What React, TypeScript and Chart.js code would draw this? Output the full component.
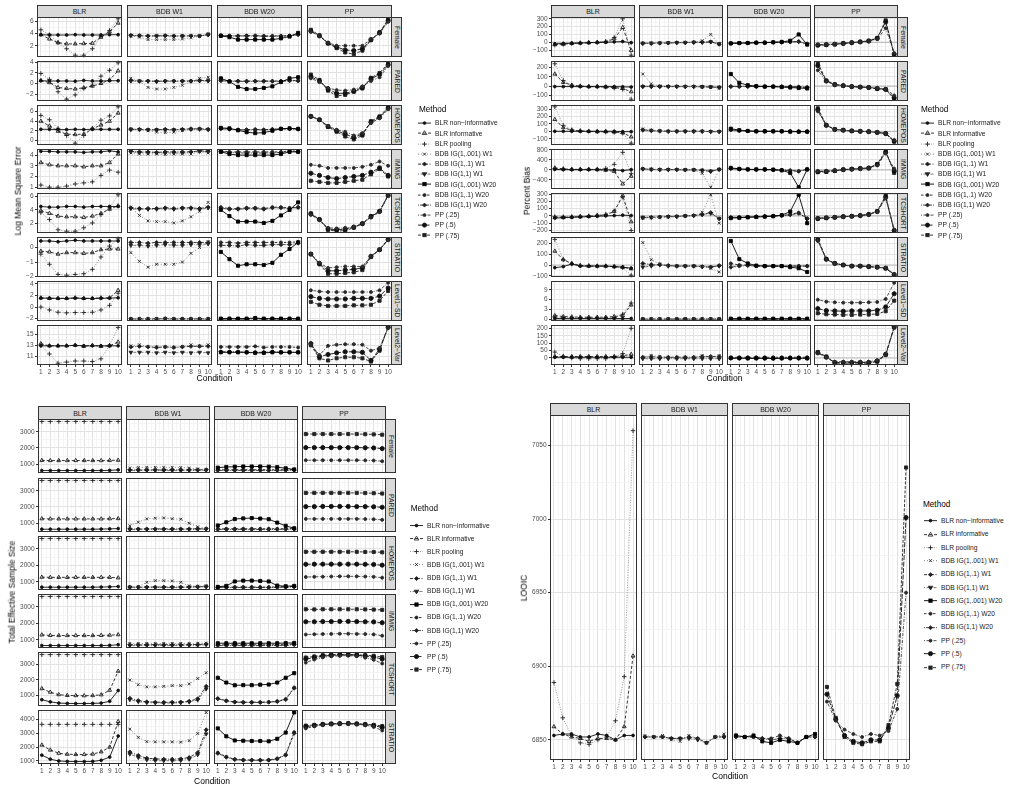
import React, { useEffect, useRef } from "react";
import { Chart, registerables } from "chart.js";

Chart.register(...registerables);

const FONT = '"Liberation Sans", Arial, Helvetica, sans-serif';

// ---------------- data ----------------
const conditions = [1, 2, 3, 4, 5, 6, 7, 8, 9, 10];
const facetColumns = ["BLR", "BDB W1", "BDB W20", "PP"];
const methodNames = [
  "BLR non\u2212informative", "BLR informative", "BLR pooling",
  "BDB IG(1,.001) W1", "BDB IG(1,.1) W1", "BDB IG(1,1) W1",
  "BDB IG(1,.001) W20", "BDB IG(1,.1) W20", "BDB IG(1,1) W20",
  "PP (.25)", "PP (.5)", "PP (.75)",
];
const parameterRows = ["Female", "PARED", "HOMEPOS", "IMMIG", "TCSHORT", "STRATIO", "Level1\u2212SD", "Level2\u2212Var"];
const essRowNames = ["Female", "PARED", "HOMEPOS", "IMMIG", "TCSHORT", "STRATIO"];

// Log mean square error, 12 series per row (method order)
const lmseFemale = [
  [3.8, 3.75, 3.75, 3.75, 3.8, 3.75, 3.75, 3.75, 3.8, 3.8],
  [3.8, 3.1, 2.5, 2.3, 2.3, 2.35, 2.4, 3.4, 4.3, 5.7],
  [4.6, 3.8, 2.5, 1.5, 0.45, 0.45, 1.5, 3.5, 4.5, 6.4],
  [3.6, 3.4, 3.0, 3.0, 3.0, 3.0, 3.1, 3.3, 3.5, 4.0],
  [3.7, 3.65, 3.6, 3.6, 3.65, 3.6, 3.6, 3.6, 3.6, 3.8],
  [3.65, 3.6, 3.55, 3.6, 3.6, 3.55, 3.6, 3.6, 3.6, 3.8],
  [3.6, 3.4, 3.0, 3.0, 3.0, 3.0, 3.0, 3.2, 3.5, 4.1],
  [3.7, 3.65, 3.6, 3.65, 3.65, 3.6, 3.6, 3.6, 3.65, 3.85],
  [3.65, 3.6, 3.6, 3.6, 3.6, 3.55, 3.55, 3.6, 3.6, 3.8],
  [4.3, 3.6, 2.5, 2.0, 2.0, 2.0, 2.0, 3.1, 4.0, 5.9],
  [4.4, 3.6, 2.4, 1.8, 1.3, 1.2, 1.5, 3.0, 4.1, 6.1],
  [4.6, 3.7, 2.4, 1.6, 0.9, 0.6, 1.2, 2.9, 4.2, 6.3],
];
const lmsePARED = [
  [0.55, 0.5, 0.5, 0.5, 0.45, 0.6, 0.5, 0.5, 0.55, 0.55],
  [0.6, 0.2, -0.7, -0.9, -1.0, -0.75, -0.45, 0.05, 0.7, 2.4],
  [1.9, 0.8, -1.5, -2.9, -2.1, -0.9, -0.3, 1.4, 2.5, 3.9],
  [1.0, 0.5, -0.7, -1.0, -1.0, -0.7, -0.3, 0.4, 1.0, 1.2],
  [0.6, 0.5, 0.5, 0.45, 0.5, 0.5, 0.5, 0.5, 0.6, 0.6],
  [0.5, 0.45, 0.45, 0.4, 0.45, 0.45, 0.45, 0.45, 0.5, 0.5],
  [1.0, 0.4, -0.6, -1.0, -1.0, -0.8, -0.5, 0.3, 1.0, 1.2],
  [0.6, 0.5, 0.5, 0.5, 0.5, 0.5, 0.5, 0.5, 0.6, 0.6],
  [0.55, 0.45, 0.45, 0.4, 0.45, 0.45, 0.45, 0.45, 0.55, 0.5],
  [1.0, 0.3, -0.8, -1.2, -1.3, -1.1, -0.5, 0.5, 1.2, 3.3],
  [1.3, 0.5, -1.0, -1.8, -1.8, -1.4, -0.7, 0.9, 1.7, 3.5],
  [1.7, 0.7, -1.3, -2.3, -2.1, -1.5, -0.9, 1.1, 2.0, 3.8],
];
const lmseHOMEPOS = [
  [2.3, 2.3, 2.25, 2.25, 2.3, 2.25, 2.3, 2.3, 2.3, 2.3],
  [4.0, 3.0, 1.9, 1.3, 1.2, 1.3, 2.4, 3.2, 4.0, 5.7],
  [5.2, 4.3, 2.5, 1.0, -0.6, 1.0, 2.5, 4.2, 5.1, 7.0],
  [2.4, 2.2, 2.0, 1.7, 1.6, 1.7, 2.0, 2.3, 2.4, 2.3],
  [2.3, 2.3, 2.2, 2.2, 2.3, 2.2, 2.3, 2.4, 2.4, 2.3],
  [2.25, 2.25, 2.2, 2.2, 2.2, 2.2, 2.25, 2.3, 2.3, 2.25],
  [2.6, 2.5, 2.1, 1.7, 1.5, 1.6, 2.0, 2.4, 2.5, 2.4],
  [2.5, 2.4, 2.2, 2.2, 2.3, 2.2, 2.3, 2.4, 2.4, 2.4],
  [2.4, 2.3, 2.2, 2.2, 2.2, 2.2, 2.3, 2.4, 2.4, 2.3],
  [5.0, 4.3, 3.0, 2.2, 1.8, 1.0, 1.5, 3.6, 4.6, 6.5],
  [5.0, 4.3, 2.9, 2.0, 1.3, 0.6, 1.3, 3.8, 4.8, 6.7],
  [5.0, 4.3, 2.8, 1.8, 0.8, 0.2, 1.0, 4.0, 5.0, 6.9],
];
const lmseIMMIG = [
  [4.35, 4.35, 4.3, 4.3, 4.3, 4.25, 4.3, 4.3, 4.4, 4.3],
  [3.3, 3.1, 3.0, 3.0, 3.0, 2.9, 3.0, 3.0, 3.3, 4.1],
  [1.2, 1.0, 1.0, 1.1, 1.3, 1.4, 1.5, 2.1, 2.6, 2.4],
  [4.2, 4.1, 4.1, 4.1, 4.05, 4.1, 4.1, 4.1, 4.3, 4.2],
  [4.35, 4.3, 4.3, 4.25, 4.3, 4.3, 4.3, 4.3, 4.4, 4.35],
  [4.3, 4.25, 4.2, 4.2, 4.2, 4.2, 4.2, 4.25, 4.35, 4.3],
  [4.3, 4.1, 4.0, 4.0, 4.0, 4.0, 4.0, 4.1, 4.3, 4.3],
  [4.4, 4.3, 4.3, 4.3, 4.3, 4.3, 4.3, 4.3, 4.4, 4.35],
  [4.35, 4.25, 4.2, 4.2, 4.2, 4.2, 4.2, 4.25, 4.35, 4.3],
  [3.1, 3.0, 2.8, 2.8, 2.8, 2.8, 2.9, 3.1, 3.4, 3.0],
  [2.3, 2.1, 1.9, 1.8, 1.9, 2.0, 2.1, 2.4, 2.8, 2.1],
  [1.6, 1.5, 1.4, 1.4, 1.5, 1.6, 1.7, 2.2, 2.7, 2.0],
];
const lmseTCSHORT = [
  [4.5, 4.4, 4.4, 4.5, 4.5, 4.4, 4.5, 4.5, 4.5, 4.5],
  [3.9, 3.5, 3.1, 3.0, 3.0, 2.9, 3.1, 3.5, 4.1, 4.6],
  [3.6, 2.6, 1.1, 0.9, 0.9, 1.4, 2.1, 3.3, 4.3, 6.2],
  [4.4, 3.2, 2.4, 2.3, 2.3, 2.1, 2.4, 3.0, 3.8, 5.1],
  [4.3, 4.2, 4.2, 4.2, 4.3, 4.2, 4.3, 4.3, 4.2, 4.4],
  [4.2, 4.1, 4.1, 4.1, 4.2, 4.1, 4.2, 4.2, 4.1, 4.3],
  [4.0, 3.1, 2.3, 2.3, 2.3, 2.1, 2.4, 3.2, 4.0, 5.1],
  [4.4, 4.2, 4.2, 4.3, 4.3, 4.2, 4.4, 4.4, 4.3, 4.4],
  [4.3, 4.1, 4.1, 4.2, 4.2, 4.1, 4.3, 4.3, 4.2, 4.35],
  [3.3, 2.5, 1.4, 1.3, 1.4, 1.5, 2.0, 2.9, 3.7, 6.0],
  [3.4, 2.6, 1.2, 1.1, 1.2, 1.5, 2.0, 3.0, 3.8, 6.1],
  [3.5, 2.6, 1.1, 0.9, 1.0, 1.4, 2.0, 3.1, 3.8, 6.2],
];
const lmseSTRATIO = [
  [0.45, 0.45, 0.4, 0.45, 0.5, 0.45, 0.45, 0.45, 0.45, 0.45],
  [-0.25, -0.3, -0.45, -0.35, -0.35, -0.4, -0.35, -0.15, -0.1, -0.1],
  [-0.45, -1.15, -1.85, -1.9, -1.85, -1.8, -1.5, -0.65, 0.1, 0.6],
  [-0.35, -0.95, -1.35, -1.15, -1.15, -1.15, -1.0, -0.4, 0.0, 0.4],
  [0.35, 0.35, 0.3, 0.35, 0.35, 0.35, 0.35, 0.35, 0.35, 0.35],
  [0.15, 0.15, 0.1, 0.15, 0.2, 0.15, 0.15, 0.2, 0.2, 0.25],
  [-0.3, -0.8, -1.25, -1.15, -1.15, -1.2, -1.05, -0.5, -0.1, 0.35],
  [0.35, 0.35, 0.3, 0.35, 0.35, 0.35, 0.35, 0.35, 0.35, 0.4],
  [0.15, 0.15, 0.1, 0.2, 0.15, 0.15, 0.2, 0.2, 0.2, 0.3],
  [-0.45, -1.05, -1.4, -1.35, -1.3, -1.3, -1.3, -0.6, -0.15, 0.5],
  [-0.45, -1.1, -1.6, -1.6, -1.55, -1.5, -1.4, -0.6, -0.15, 0.55],
  [-0.45, -1.15, -1.8, -1.8, -1.75, -1.7, -1.55, -0.65, -0.15, 0.6],
];
const lmseLevel1SD = [
  [1.55, 1.55, 1.5, 1.5, 1.55, 1.5, 1.5, 1.5, 1.55, 1.6],
  [1.6, 1.5, 1.5, 1.5, 1.6, 1.5, 1.5, 1.6, 1.6, 2.9],
  [0.0, -0.5, -0.9, -1.0, -0.95, -0.95, -0.9, -0.5, 0.3, 2.4],
  [-2.0, -2.0, -2.0, -2.0, -1.95, -2.0, -2.0, -2.0, -2.0, -2.0],
  [-2.05, -2.05, -2.05, -2.05, -2.0, -2.05, -2.05, -2.05, -2.05, -2.05],
  [-2.1, -2.1, -2.1, -2.1, -2.05, -2.1, -2.1, -2.1, -2.1, -2.1],
  [-2.0, -2.0, -2.0, -2.0, -1.9, -2.0, -2.0, -2.0, -2.0, -2.0],
  [-2.05, -2.05, -2.05, -2.05, -2.0, -2.05, -2.05, -2.05, -2.05, -2.05],
  [-2.1, -2.1, -2.1, -2.1, -2.05, -2.1, -2.1, -2.1, -2.1, -2.1],
  [2.9, 2.7, 2.6, 2.6, 2.6, 2.6, 2.6, 2.6, 2.9, 4.2],
  [1.8, 1.5, 1.4, 1.4, 1.4, 1.5, 1.5, 1.5, 1.9, 3.3],
  [0.9, 0.4, 0.2, 0.2, 0.2, 0.3, 0.3, 0.4, 1.1, 2.8],
];
const lmseLevel2Var = [
  [12.9, 12.9, 12.9, 12.9, 13.0, 12.9, 12.9, 12.9, 12.9, 12.9],
  [13.3, 12.9, 12.9, 12.9, 13.0, 12.8, 13.0, 12.8, 12.9, 13.6],
  [13.0, 11.4, 9.7, 9.9, 10.1, 10.1, 10.0, 10.5, 13.0, 16.3],
  [12.9, 13.1, 12.8, 12.7, 12.7, 12.6, 12.8, 13.1, 12.9, 13.1],
  [12.7, 12.8, 12.7, 12.6, 12.7, 12.6, 12.7, 12.8, 12.8, 12.8],
  [11.7, 11.7, 11.7, 11.6, 11.7, 11.6, 11.7, 11.6, 11.7, 11.6],
  [11.7, 11.7, 11.7, 11.7, 11.6, 11.6, 11.7, 11.7, 11.7, 11.7],
  [12.7, 12.7, 12.7, 12.7, 12.8, 12.6, 12.7, 12.7, 12.7, 12.6],
  [11.8, 11.8, 11.8, 11.7, 11.7, 11.7, 11.8, 11.7, 11.7, 11.7],
  [13.2, 11.2, 12.9, 13.1, 13.2, 13.2, 13.1, 12.0, 12.5, 16.2],
  [13.3, 10.9, 11.3, 11.6, 11.8, 11.8, 11.7, 10.2, 12.3, 16.3],
  [13.0, 10.6, 10.2, 10.6, 10.8, 10.8, 10.6, 10.0, 12.0, 16.4],
];

// Percent bias
const biasFemale = [
  [-20, -15, -12, -10, -5, -3, 0, 5, 10, -5],
  [-30, -25, -15, -10, -5, 0, 5, 45, 190, -105],
  [-35, -25, -15, -10, -5, 0, 10, 60, 300, -165],
  [-15, -10, -10, -5, -5, 0, 0, 20, 100, -25],
  [-15, -15, -10, -10, -5, -5, 0, 0, 5, -25],
  [-12, -12, -10, -8, -5, -5, 0, 0, 5, -20],
  [-15, -10, -10, -5, -5, 0, 5, 20, 100, -30],
  [-15, -10, -10, -5, -5, 0, 0, 5, 10, -25],
  [-12, -10, -8, -5, -5, 0, 0, 5, 8, -20],
  [-30, -30, -20, -15, -5, 5, 15, 40, 180, -140],
  [-35, -30, -25, -15, -5, 5, 15, 50, 260, -150],
  [-40, -35, -25, -15, -5, 5, 20, 55, 280, -165],
];
const biasPARED = [
  [-5, -5, -5, -5, -5, -5, -5, -5, -8, -10],
  [130, 40, 10, 0, -5, -5, -10, -15, -25, -60],
  [240, 60, 10, 0, -5, -5, -10, -20, -35, -140],
  [130, 25, 0, -5, -5, -5, -5, -10, -15, -20],
  [-5, -5, -5, -5, -5, -5, -5, -8, -10, -15],
  [-3, -3, -3, -3, -3, -5, -5, -5, -8, -12],
  [130, 35, 10, 0, -5, -5, -10, -15, -20, -25],
  [-5, -5, -5, -5, -5, -5, -5, -8, -10, -15],
  [-3, -3, -3, -3, -3, -5, -5, -5, -8, -12],
  [170, 50, 15, 5, -5, -10, -15, -20, -30, -100],
  [220, 55, 15, 5, -5, -10, -15, -25, -35, -125],
  [250, 60, 20, 5, -5, -10, -15, -30, -35, -140],
];
const biasHOMEPOS = [
  [0, 0, 0, 0, 0, 0, 0, 0, -5, -5],
  [160, 50, 15, 5, 0, -5, -5, -10, -20, -75],
  [330, 80, 20, 5, 0, -5, -10, -15, -25, -160],
  [30, 15, 5, 0, 0, 0, 0, 0, -5, -5],
  [20, 10, 5, 0, 0, 0, 0, 0, -5, -5],
  [15, 8, 3, 0, 0, 0, 0, 0, -3, -3],
  [35, 15, 5, 0, 0, 0, 0, -5, -5, -5],
  [25, 10, 5, 0, 0, 0, 0, 0, -5, -5],
  [18, 8, 3, 0, 0, 0, 0, 0, -3, -3],
  [270, 80, 25, 15, 5, 0, -5, -15, -30, -120],
  [290, 80, 25, 15, 5, 0, -5, -15, -30, -130],
  [310, 85, 25, 15, 5, 0, -5, -15, -30, -140],
];
const biasIMMIG = [
  [20, 10, 10, 10, 10, 10, 0, 0, -30, 10],
  [80, 40, 20, 20, 20, 10, -10, -60, -560, -250],
  [50, 30, 20, 20, 20, 30, 60, 220, 700, -150],
  [60, 30, 10, 10, 10, 0, -10, -140, -690, 20],
  [40, 20, 10, 10, 10, 0, 0, -20, -60, 20],
  [30, 20, 10, 10, 10, 0, 0, -10, -50, 20],
  [80, 40, 20, 20, 20, 10, -20, -120, -690, 20],
  [60, 30, 20, 10, 10, 0, -10, -30, -60, 20],
  [50, 25, 15, 10, 10, 0, -5, -20, -50, 20],
  [-50, -50, -20, 0, 20, 40, 60, 180, 650, 50],
  [-70, -60, -30, 10, 30, 50, 70, 210, 700, -50],
  [-90, -80, -40, 10, 30, 60, 80, 230, 760, -120],
];
const biasTCSHORT = [
  [-30, -25, -20, -15, -10, -5, 0, 5, 10, 5],
  [-20, -20, -15, -10, -5, 5, 15, 60, 280, -80],
  [-10, -10, -10, -5, 0, 10, 20, 70, 260, -200],
  [-30, -25, -20, -15, -10, -5, 5, 50, 290, -100],
  [-25, -20, -15, -10, -10, 0, 5, 20, 45, -40],
  [-20, -20, -15, -10, -5, 0, 5, 15, 35, -35],
  [-30, -25, -20, -15, -10, -5, 10, 60, 290, -100],
  [-25, -20, -15, -10, -5, 0, 5, 20, 45, -40],
  [-20, -18, -15, -10, -5, 0, 5, 15, 35, -35],
  [-30, -25, -15, -10, -5, 5, 20, 55, 240, -190],
  [-35, -25, -20, -10, -5, 5, 20, 60, 260, -200],
  [-40, -30, -20, -10, -5, 5, 20, 65, 280, -210],
];
const biasSTRATIO = [
  [-25, -15, 10, -10, -10, -10, -10, -15, -20, -30],
  [130, 50, 15, -5, -10, -10, -10, -15, -20, -35],
  [240, 50, 10, -5, -5, -10, -10, -15, -25, -95],
  [210, 50, 10, -5, -10, -10, -10, -15, -30, -65],
  [15, 5, 5, -5, -10, -10, -10, -15, -20, -5],
  [-20, -10, 0, -10, -10, -10, -10, -15, -20, -10],
  [225, 55, 15, -5, -10, -10, -10, -20, -30, -65],
  [15, 0, 0, -10, -10, -10, -10, -10, -10, -10],
  [-20, -10, -5, -10, -10, -10, -10, -10, -10, -10],
  [225, 50, 15, 0, -10, -10, -15, -20, -25, -85],
  [235, 55, 15, 0, -10, -10, -15, -20, -30, -90],
  [245, 55, 15, 0, -10, -10, -15, -20, -30, -90],
];
const biasLevel1SD = [
  [0.3, 0.3, 0.3, 0.3, 0.3, 0.3, 0.3, 0.3, 0.3, 0.3],
  [1.2, 0.9, 0.8, 0.7, 0.7, 0.7, 0.7, 0.9, 1.2, 4.4],
  [0.7, 0.5, 0.5, 0.4, 0.4, 0.4, 0.4, 0.6, 1.6, 5.0],
  [0.25, 0.25, 0.25, 0.25, 0.25, 0.25, 0.25, 0.25, 0.25, 0.25],
  [0.15, 0.15, 0.15, 0.15, 0.15, 0.15, 0.15, 0.15, 0.15, 0.15],
  [0.1, 0.1, 0.1, 0.1, 0.1, 0.1, 0.1, 0.1, 0.1, 0.1],
  [0.25, 0.25, 0.25, 0.25, 0.25, 0.25, 0.25, 0.25, 0.25, 0.25],
  [0.15, 0.15, 0.15, 0.15, 0.15, 0.15, 0.15, 0.15, 0.15, 0.15],
  [0.1, 0.1, 0.1, 0.1, 0.1, 0.1, 0.1, 0.1, 0.1, 0.1],
  [6.0, 5.4, 5.2, 5.1, 5.1, 5.1, 5.2, 5.3, 6.2, 11.1],
  [3.3, 2.7, 2.6, 2.5, 2.6, 2.6, 2.6, 2.8, 3.8, 7.8],
  [1.9, 1.6, 1.5, 1.4, 1.4, 1.5, 1.5, 1.7, 2.5, 5.7],
];
const biasLevel2Var = [
  [5, 5, 5, 5, 5, 5, 5, 5, 5, 5],
  [10, 10, 10, 10, 10, 10, 10, 10, 15, 25],
  [40, 10, 0, -5, -5, -5, -5, 5, 30, 200],
  [5, 15, 10, 5, 5, 5, 5, 15, 10, 15],
  [5, 10, 5, 5, 5, 5, 5, 10, 10, 10],
  [-5, -5, -5, -5, -5, -5, -5, -5, -5, -5],
  [0, -1, -2, -2, -2, -3, -2, -1, -1, -2],
  [5, 5, 5, 5, 5, 5, 5, 5, 5, 5],
  [-3, -3, -3, -3, -3, -3, -3, -3, -3, -3],
  [35, 5, -25, -25, -25, -25, -25, -15, 20, 205],
  [35, 5, -30, -30, -30, -30, -30, -20, 25, 210],
  [40, 10, -35, -35, -35, -35, -35, -25, 20, 205],
];

// Total effective sample size
const essFemale = [
  [600, 600, 600, 600, 600, 600, 600, 600, 610, 640],
  [1230, 1220, 1220, 1220, 1220, 1220, 1220, 1220, 1230, 1240],
  [3640, 3640, 3640, 3640, 3640, 3640, 3640, 3640, 3640, 3640],
  [760, 790, 800, 800, 800, 800, 790, 760, 700, 650],
  [640, 640, 640, 640, 640, 640, 640, 640, 645, 650],
  [600, 600, 600, 600, 600, 600, 600, 600, 605, 620],
  [780, 820, 840, 850, 850, 850, 840, 810, 740, 670],
  [650, 650, 650, 650, 650, 650, 650, 650, 650, 655],
  [610, 610, 610, 610, 610, 610, 610, 610, 615, 625],
  [1240, 1240, 1240, 1240, 1240, 1240, 1240, 1230, 1220, 1180],
  [2020, 2020, 2020, 2020, 2020, 2020, 2020, 2010, 2000, 1960],
  [2860, 2860, 2860, 2860, 2860, 2860, 2860, 2850, 2840, 2820],
];
const essPARED = [
  [620, 620, 620, 620, 620, 620, 620, 630, 640, 660],
  [1270, 1260, 1260, 1260, 1260, 1260, 1260, 1260, 1270, 1280],
  [3640, 3640, 3640, 3640, 3640, 3640, 3640, 3640, 3640, 3640],
  [830, 1060, 1260, 1300, 1320, 1270, 1240, 990, 770, 670],
  [640, 640, 640, 640, 640, 640, 640, 640, 645, 650],
  [600, 600, 600, 600, 600, 600, 600, 600, 605, 620],
  [850, 1050, 1250, 1290, 1310, 1280, 1240, 1030, 830, 680],
  [650, 650, 650, 650, 650, 650, 650, 650, 655, 660],
  [610, 610, 610, 610, 610, 610, 610, 610, 615, 625],
  [1260, 1260, 1260, 1260, 1260, 1260, 1260, 1250, 1240, 1200],
  [2020, 2020, 2030, 2030, 2030, 2030, 2020, 2020, 2010, 1980],
  [2870, 2870, 2870, 2870, 2870, 2870, 2870, 2860, 2850, 2830],
];
const essHOMEPOS = [
  [680, 680, 680, 680, 680, 680, 680, 690, 700, 720],
  [1290, 1280, 1280, 1280, 1280, 1280, 1280, 1280, 1280, 1250],
  [3640, 3640, 3640, 3640, 3640, 3640, 3640, 3640, 3640, 3640],
  [700, 720, 980, 1080, 1080, 1060, 980, 760, 740, 760],
  [690, 690, 690, 690, 690, 690, 690, 700, 710, 730],
  [660, 660, 660, 660, 660, 660, 660, 670, 680, 700],
  [700, 760, 1030, 1080, 1080, 1060, 1030, 780, 740, 760],
  [690, 690, 690, 690, 690, 690, 690, 700, 710, 730],
  [660, 660, 660, 660, 660, 660, 660, 670, 680, 700],
  [1300, 1310, 1320, 1330, 1340, 1340, 1340, 1330, 1310, 1260],
  [2070, 2080, 2080, 2080, 2080, 2080, 2080, 2070, 2060, 2020],
  [2830, 2830, 2830, 2830, 2830, 2830, 2830, 2820, 2820, 2800],
];
const essIMMIG = [
  [650, 650, 650, 650, 650, 650, 650, 650, 660, 700],
  [1300, 1270, 1260, 1260, 1260, 1260, 1260, 1270, 1280, 1310],
  [3640, 3640, 3640, 3640, 3640, 3640, 3640, 3640, 3640, 3640],
  [780, 780, 780, 780, 780, 780, 780, 780, 790, 800],
  [700, 700, 700, 700, 700, 700, 700, 705, 710, 740],
  [650, 650, 650, 650, 650, 650, 650, 655, 660, 700],
  [790, 790, 790, 790, 790, 790, 790, 790, 800, 810],
  [700, 700, 700, 700, 700, 700, 700, 705, 710, 740],
  [650, 650, 650, 650, 650, 650, 650, 655, 660, 700],
  [1320, 1340, 1350, 1360, 1370, 1370, 1360, 1350, 1330, 1250],
  [2100, 2100, 2110, 2110, 2120, 2120, 2110, 2100, 2090, 2040],
  [2860, 2850, 2860, 2860, 2860, 2860, 2860, 2850, 2840, 2820],
];
const essTCSHORT = [
  [700, 560, 480, 460, 450, 450, 460, 480, 600, 1300],
  [1420, 1190, 1030, 980, 970, 960, 970, 1020, 1320, 2560],
  [3640, 3640, 3640, 3640, 3640, 3640, 3640, 3640, 3640, 3640],
  [1980, 1680, 1540, 1540, 1570, 1620, 1620, 1730, 2080, 2460],
  [800, 640, 560, 540, 530, 540, 550, 600, 760, 1570],
  [700, 580, 510, 490, 480, 490, 500, 550, 680, 1400],
  [2130, 1820, 1640, 1650, 1650, 1680, 1690, 1820, 2130, 2430],
  [780, 640, 560, 540, 540, 540, 550, 600, 740, 1500],
  [760, 620, 540, 520, 520, 520, 540, 580, 710, 1450],
  [3120, 3320, 3460, 3530, 3570, 3580, 3540, 3440, 3300, 3060],
  [3350, 3450, 3540, 3590, 3620, 3620, 3600, 3550, 3480, 3350],
  [3450, 3520, 3600, 3630, 3650, 3650, 3630, 3600, 3560, 3480],
];
const essSTRATIO = [
  [1420, 1130, 1000, 970, 960, 960, 970, 1050, 1280, 2800],
  [2150, 1790, 1560, 1490, 1470, 1470, 1500, 1660, 2000, 3850],
  [3640, 3640, 3640, 3640, 3640, 3640, 3640, 3640, 3640, 3640],
  [3300, 2700, 2400, 2380, 2380, 2380, 2360, 2470, 2980, 4500],
  [1650, 1400, 1200, 1150, 1130, 1130, 1150, 1250, 1600, 3250],
  [1500, 1250, 1080, 1030, 1020, 1020, 1040, 1130, 1450, 2950],
  [3350, 2780, 2480, 2460, 2440, 2440, 2420, 2600, 3050, 4500],
  [1600, 1300, 1130, 1080, 1070, 1070, 1080, 1180, 1460, 3080],
  [1550, 1270, 1100, 1060, 1050, 1050, 1060, 1150, 1420, 3000],
  [3350, 3500, 3600, 3650, 3680, 3690, 3640, 3580, 3460, 3200],
  [3480, 3560, 3630, 3670, 3690, 3700, 3670, 3620, 3550, 3420],
  [3550, 3600, 3650, 3680, 3700, 3710, 3690, 3650, 3600, 3520],
];

// LOOIC
const looicAll = [
  [6853, 6854, 6854, 6852, 6852, 6854, 6853, 6850, 6853, 6853],
  [6859, 6854, 6852, 6851, 6849, 6851, 6851, 6850, 6859, 6907],
  [6889, 6865, 6853, 6848, 6847, 6850, 6852, 6863, 6893, 7060],
  [6853, 6852, 6853, 6850, 6849, 6853, 6851, 6848, 6852, 6854],
  [6852, 6852, 6852, 6851, 6851, 6852, 6851, 6848, 6852, 6852],
  [6852, 6852, 6852, 6851, 6851, 6851, 6850, 6848, 6852, 6852],
  [6853, 6852, 6853, 6849, 6848, 6850, 6849, 6848, 6852, 6854],
  [6853, 6852, 6852, 6851, 6851, 6853, 6851, 6848, 6852, 6852],
  [6852, 6852, 6852, 6851, 6850, 6851, 6851, 6848, 6852, 6852],
  [6876, 6863, 6857, 6854, 6852, 6854, 6853, 6856, 6871, 6950],
  [6881, 6864, 6853, 6849, 6848, 6850, 6850, 6858, 6880, 7001],
  [6886, 6865, 6852, 6848, 6847, 6849, 6849, 6860, 6888, 7035],
];

// axis breaks
const lmseTicks = [[2, 4, 6], [-2, 0, 2, 4], [0, 2, 4, 6], [1, 2, 3, 4], [2, 4, 6], [-2, -1, 0], [-2, 0, 2, 4], [11, 13, 15]];
const biasTicks = [[-100, 0, 100, 200, 300], [-100, 0, 100, 200], [-100, 0, 100, 200, 300], [-400, 0, 400, 800], [-200, -100, 0, 100, 200, 300], [-100, 0, 100, 200], [0, 3, 6, 9], [-50, 0, 50, 100, 150, 200]];
const essTicks = [[1000, 2000, 3000], [1000, 2000, 3000], [1000, 2000, 3000], [1000, 2000, 3000], [1000, 2000, 3000], [1000, 2000, 3000, 4000]];
const looicTicks = [[6850, 6900, 6950, 7000, 7050]];
const biasReference = 0;

const lmseValues = [lmseFemale, lmsePARED, lmseHOMEPOS, lmseIMMIG, lmseTCSHORT, lmseSTRATIO, lmseLevel1SD, lmseLevel2Var];
const biasValues = [biasFemale, biasPARED, biasHOMEPOS, biasIMMIG, biasTCSHORT, biasSTRATIO, biasLevel1SD, biasLevel2Var];
const essValues = [essFemale, essPARED, essHOMEPOS, essIMMIG, essTCSHORT, essSTRATIO];

// ---------------- styles ----------------
const methodColor = ["#111111", "#1e1e1e", "#8c8c8c", "#7a7a7a", "#1e1e1e", "#6a6a6a", "#000000", "#222222", "#333333", "#3a3a3a", "#111111", "#222222"];
const methodPointColor = ["#111111", "#1e1e1e", "#222222", "#222222", "#1e1e1e", "#222222", "#000000", "#222222", "#222222", "#2a2a2a", "#111111", "#222222"];
const methodDash: number[][] = [[], [3, 2], [1, 1.5], [1, 2], [3, 1.5, 1, 1.5], [1, 1.5, 3, 1.5], [], [2.5, 2], [1, 1, 3, 1], [1, 1.5, 3, 1.5], [5, 1.5], [3, 1.5]];
const methodShape = ["circle", "triangle", "cross", "crossRot", "rectRot", "triangle", "rect", "circle", "rectRot", "circle", "circle", "rect"];
const methodRotation = [0, 0, 0, 0, 0, 180, 0, 0, 0, 0, 0, 0];
const methodRadius = [1.4, 2.2, 2.3, 2.0, 2.0, 2.1, 2.2, 1.5, 2.0, 1.5, 2.1, 2.2];
const methodFilled = [true, false, true, true, true, true, true, true, true, true, true, true];

const GRID_MAJOR = "#e2e2e2";
const GRID_MINOR = "#f0f0f0";
const FRAME = "#333333";
const TICK_TEXT = "#4d4d4d";

const xLo = conditions[0] - 0.05 * (conditions[conditions.length - 1] - conditions[0]);
const xHi = conditions[conditions.length - 1] + 0.05 * (conditions[conditions.length - 1] - conditions[0]);

function minorBreaks(major: number[], lo: number, hi: number) {
  const step = major[1] - major[0];
  const ext = [major[0] - step, ...major, major[major.length - 1] + step];
  const out: number[] = [];
  for (let i = 0; i < ext.length - 1; i++) {
    const m = (ext[i] + ext[i + 1]) / 2;
    if (m > lo && m < hi) out.push(m);
  }
  return out;
}

const fmt = (v: number) => String(Math.round(v * 1000) / 1000).replace("-", "\u2212");

const framePlugin = {
  id: "panelFrame",
  beforeDatasetsDraw(chart: any, _a: any, opts: any) {
    if (opts && typeof opts.ref === "number") {
      const y = chart.scales.y.getPixelForValue(opts.ref);
      const ca = chart.chartArea;
      const ctx = chart.ctx;
      ctx.save();
      ctx.strokeStyle = "#bdbdbd";
      ctx.lineWidth = 1.2;
      ctx.beginPath();
      ctx.moveTo(ca.left, y);
      ctx.lineTo(ca.right, y);
      ctx.stroke();
      ctx.restore();
    }
  },
  afterDraw(chart: any) {
    const ca = chart.chartArea;
    const ctx = chart.ctx;
    ctx.save();
    ctx.strokeStyle = FRAME;
    ctx.lineWidth = 1;
    ctx.strokeRect(ca.left + 0.5, ca.top + 0.5, ca.right - ca.left - 1, ca.bottom - ca.top - 1);
    ctx.restore();
  },
};

type PanelProps = {
  left: number; top: number; w: number; h: number;
  showY: boolean; showX: boolean; yAxisW: number; xAxisH: number;
  methods: number[]; rowValues: number[][];
  yLo: number; yHi: number; yMajor: number[];
  reference?: number;
};

function FacetPanel(p: PanelProps) {
  const ref = useRef<HTMLCanvasElement>(null);
  const padT = p.showY ? 5 : 0;
  const padB = p.showY ? 5 : 0;
  const cl = p.left - (p.showY ? p.yAxisW : 0);
  const ct = p.top - padT;
  const cw = p.w + (p.showY ? p.yAxisW : 0);
  const ch = p.h + padT + padB + (p.showX ? p.xAxisH : 0);

  useEffect(() => {
    const yMajor = p.yMajor.filter((v) => v >= p.yLo && v <= p.yHi);
    const yMinor = minorBreaks(p.yMajor, p.yLo, p.yHi);
    const xMajor = conditions;
    const xMinor = minorBreaks(conditions, xLo, xHi);
    const isMaj = (arr: number[], v: number) => arr.some((m) => Math.abs(m - v) < 1e-9);
    const gridOpts = (maj: number[], show: boolean) => ({
      color: (c: any) => (c.tick && isMaj(maj, c.tick.value) ? GRID_MAJOR : GRID_MINOR),
      lineWidth: (c: any) => (c.tick && isMaj(maj, c.tick.value) ? 1 : 0.7),
      drawTicks: show,
      tickLength: 2,
      tickWidth: 1,
      tickColor: (c: any) => (c.tick && isMaj(maj, c.tick.value) ? FRAME : "rgba(0,0,0,0)"),
    });
    const chart = new Chart(ref.current as HTMLCanvasElement, {
      type: "line",
      data: {
        datasets: p.methods.map((m) => ({
          label: methodNames[m],
          data: conditions.map((c, i) => ({ x: c, y: p.rowValues[m][i] })),
          borderColor: methodColor[m],
          borderWidth: 0.9,
          borderDash: methodDash[m],
          pointStyle: methodShape[m] as any,
          pointRotation: methodRotation[m],
          pointRadius: methodRadius[m],
          pointHoverRadius: methodRadius[m],
          pointBackgroundColor: methodFilled[m] ? methodPointColor[m] : "rgba(0,0,0,0)",
          pointBorderColor: methodPointColor[m],
          pointBorderWidth: 0.9,
          tension: 0,
          fill: false,
          clip: 4,
        })),
      },
      options: {
        animation: false,
        responsive: false,
        maintainAspectRatio: false,
        events: [],
        layout: { autoPadding: false, padding: { top: padT, bottom: padB, left: 0, right: 0 } },
        plugins: {
          legend: { display: false },
          tooltip: { enabled: false },
          title: { display: false },
          panelFrame: { ref: p.reference },
        } as any,
        scales: {
          x: {
            type: "linear",
            position: "bottom",
            min: xLo,
            max: xHi,
            afterBuildTicks: (s: any) => {
              s.ticks = [...xMajor, ...xMinor].sort((a, b) => a - b).map((v) => ({ value: v }));
            },
            afterFit: (s: any) => {
              s.height = p.showX ? p.xAxisH : 0;
              s.paddingLeft = 0; s.paddingRight = 0; s.paddingTop = 0; s.paddingBottom = 0;
            },
            border: { display: false },
            grid: gridOpts(xMajor, p.showX) as any,
            ticks: {
              display: p.showX,
              autoSkip: false,
              maxRotation: 0,
              minRotation: 0,
              padding: 1,
              color: TICK_TEXT,
              font: { family: FONT, size: 6.5 },
              callback: (v: any) => (isMaj(xMajor, Number(v)) ? fmt(Number(v)) : ""),
            },
          },
          y: {
            type: "linear",
            position: "left",
            min: p.yLo,
            max: p.yHi,
            afterBuildTicks: (s: any) => {
              s.ticks = [...yMajor, ...yMinor].sort((a, b) => a - b).map((v) => ({ value: v }));
            },
            afterFit: (s: any) => {
              s.width = p.showY ? p.yAxisW : 0;
              s.paddingLeft = 0; s.paddingRight = 0; s.paddingTop = 0; s.paddingBottom = 0;
            },
            border: { display: false },
            grid: gridOpts(yMajor, p.showY) as any,
            ticks: {
              display: p.showY,
              autoSkip: false,
              padding: 1.5,
              color: TICK_TEXT,
              font: { family: FONT, size: 6.5 },
              callback: (v: any) => (isMaj(yMajor, Number(v)) ? fmt(Number(v)) : ""),
            },
          },
        },
      },
      plugins: [framePlugin as any],
    });
    return () => chart.destroy();
  }, []);

  return (
    <canvas
      ref={ref}
      width={cw}
      height={ch}
      style={{ position: "absolute", left: cl, top: ct, width: cw, height: ch }}
    />
  );
}

function LegendKey({ m, w, h }: { m: number; w: number; h: number }) {
  const cy = h / 2;
  const cx = w / 2;
  const col = methodColor[m];
  const pc = methodPointColor[m];
  const r = methodRadius[m];
  const fill = methodFilled[m] ? pc : "none";
  let marker: any = null;
  const shape = methodShape[m];
  if (shape === "circle") marker = <circle cx={cx} cy={cy} r={r} fill={fill} stroke={pc} strokeWidth={0.8} />;
  else if (shape === "triangle") {
    const s = r * 1.1;
    const pts = methodRotation[m] === 180
      ? `${cx - s},${cy - s * 0.6} ${cx + s},${cy - s * 0.6} ${cx},${cy + s}`
      : `${cx - s},${cy + s * 0.6} ${cx + s},${cy + s * 0.6} ${cx},${cy - s}`;
    marker = <polygon points={pts} fill={fill} stroke={pc} strokeWidth={0.8} />;
  } else if (shape === "cross") {
    marker = <g stroke={pc} strokeWidth={0.9}><line x1={cx - r} y1={cy} x2={cx + r} y2={cy} /><line x1={cx} y1={cy - r} x2={cx} y2={cy + r} /></g>;
  } else if (shape === "crossRot") {
    const d = r * 0.75;
    marker = <g stroke={pc} strokeWidth={0.9}><line x1={cx - d} y1={cy - d} x2={cx + d} y2={cy + d} /><line x1={cx - d} y1={cy + d} x2={cx + d} y2={cy - d} /></g>;
  } else if (shape === "rectRot") {
    marker = <polygon points={`${cx},${cy - r} ${cx + r},${cy} ${cx},${cy + r} ${cx - r},${cy}`} fill={fill} stroke={pc} strokeWidth={0.8} />;
  } else {
    const s = r * 0.75;
    marker = <rect x={cx - s} y={cy - s} width={2 * s} height={2 * s} fill={fill} stroke={pc} strokeWidth={0.8} />;
  }
  return (
    <svg width={w} height={h} style={{ position: "absolute", left: 0, top: 0, overflow: "visible" }}>
      <line x1={0} y1={cy} x2={w} y2={cy} stroke={col} strokeWidth={0.9} strokeDasharray={methodDash[m].length ? methodDash[m].join(" ") : undefined} />
      {marker}
    </svg>
  );
}

type LayoutSpec = {
  lefts: number[]; pw: number;
  t0: number; ph: number; step: number;
  stripTop: number; rightStripW: number;
  yAxisW: number; xAxisH: number;
  yTitle: string; yTitleX: number; xTitleY: number;
  legend: { titleX: number; titleY: number; keyX: number; keyW: number; textX: number; y0: number; dy: number };
};

function FacetGrid({ rows, values, ticks, L, reference }: { rows: string[]; values: number[][][]; ticks: number[][]; L: LayoutSpec; reference?: number }) {
  const items: any[] = [];
  let firstTop = 0;
  let lastBottom = 0;
  rows.forEach((rowName, r) => {
    const top = Math.round(L.t0 + r * L.step);
    const bottom = Math.round(L.t0 + r * L.step + L.ph);
    if (r === 0) firstTop = top;
    lastBottom = bottom;
    const h = bottom - top;
    const rv = values[r];
    const all = rv.flat();
    const mn = Math.min(...all);
    const mx = Math.max(...all);
    const d = mx - mn;
    const yLo = mn - 0.05 * d;
    const yHi = mx + 0.05 * d;
    facetColumns.forEach((_c, c) => {
      items.push(
        <FacetPanel
          key={`p-${r}-${c}`}
          left={L.lefts[c]} top={top} w={L.pw} h={h}
          showY={c === 0} showX={r === rows.length - 1}
          yAxisW={L.yAxisW} xAxisH={L.xAxisH}
          methods={[3 * c, 3 * c + 1, 3 * c + 2]}
          rowValues={rv}
          yLo={yLo} yHi={yHi} yMajor={ticks[r]}
          reference={reference}
        />
      );
    });
    if (rowName) {
      items.push(
        <div key={`rs-${r}`} style={{
          position: "absolute", left: L.lefts[3] + L.pw - 1, top, width: L.rightStripW, height: h,
          boxSizing: "border-box", background: "#d9d9d9", border: `1px solid ${FRAME}`,
          display: "flex", alignItems: "center", justifyContent: "center", overflow: "hidden",
        }}>
          <span style={{ writingMode: "vertical-rl", fontSize: 6.8, color: "#1a1a1a", whiteSpace: "nowrap", lineHeight: 1 }}>{rowName}</span>
        </div>
      );
    }
  });
  facetColumns.forEach((col, c) => {
    items.push(
      <div key={`ts-${c}`} style={{
        position: "absolute", left: L.lefts[c], top: L.stripTop, width: L.pw, height: firstTop - L.stripTop + 1,
        boxSizing: "border-box", background: "#d9d9d9", border: `1px solid ${FRAME}`,
        display: "flex", alignItems: "center", justifyContent: "center",
        fontSize: 7, color: "#1a1a1a", whiteSpace: "nowrap", lineHeight: 1,
      }}>{col}</div>
    );
  });
  const plotRight = L.lefts[3] + L.pw;
  items.push(
    <div key="xt" style={{
      position: "absolute", left: (L.lefts[0] + plotRight) / 2, top: L.xTitleY,
      transform: "translate(-50%, -50%)", fontSize: 8.5, color: "#000", whiteSpace: "nowrap", lineHeight: 1,
    }}>Condition</div>
  );
  items.push(
    <div key="yt" style={{
      position: "absolute", left: L.yTitleX, top: (firstTop + lastBottom) / 2,
      transform: "translate(-50%, -50%) rotate(-90deg)", fontSize: 8.5, color: "#000", whiteSpace: "nowrap", lineHeight: 1,
    }}>{L.yTitle}</div>
  );
  const lg = L.legend;
  items.push(
    <div key="lt" style={{
      position: "absolute", left: lg.titleX, top: lg.titleY, transform: "translateY(-50%)",
      fontSize: 8.2, color: "#000", whiteSpace: "nowrap", lineHeight: 1,
    }}>Method</div>
  );
  methodNames.forEach((name, m) => {
    const cy = lg.y0 + m * lg.dy;
    items.push(
      <div key={`lk-${m}`} style={{ position: "absolute", left: lg.keyX, top: cy - lg.dy / 2, width: lg.keyW, height: lg.dy }}>
        <LegendKey m={m} w={lg.keyW} h={lg.dy} />
      </div>
    );
    items.push(
      <div key={`ln-${m}`} style={{
        position: "absolute", left: lg.textX, top: cy, transform: "translateY(-50%)",
        fontSize: 6.7, color: "#1a1a1a", whiteSpace: "nowrap", lineHeight: 1,
      }}>{name}</div>
    );
  });
  return <>{items}</>;
}

const layoutLmse: LayoutSpec = {
  lefts: [37, 127, 217, 307], pw: 85,
  t0: 17.3, ph: 39.6, step: 43.95,
  stripTop: 4.5, rightStripW: 11,
  yAxisW: 22, xAxisH: 13,
  yTitle: "Log Mean Square Error", yTitleX: 18, xTitleY: 378,
  legend: { titleX: 419, titleY: 110, keyX: 418, keyW: 13, textX: 435, y0: 123.3, dy: 10.2 },
};
const layoutBias: LayoutSpec = {
  lefts: [551, 639, 727, 814], pw: 84,
  t0: 17.3, ph: 39.6, step: 43.95,
  stripTop: 4.5, rightStripW: 11,
  yAxisW: 24, xAxisH: 13,
  yTitle: "Percent Bias", yTitleX: 527, xTitleY: 378,
  legend: { titleX: 921, titleY: 110, keyX: 921, keyW: 13, textX: 938, y0: 123.3, dy: 10.2 },
};
const layoutEss: LayoutSpec = {
  lefts: [38, 126, 214, 302], pw: 84,
  t0: 419.3, ph: 54, step: 58.2,
  stripTop: 406, rightStripW: 11,
  yAxisW: 24, xAxisH: 13,
  yTitle: "Total Effective Sample Size", yTitleX: 12, xTitleY: 781,
  legend: { titleX: 410.7, titleY: 509, keyX: 410, keyW: 13, textX: 427, y0: 525.7, dy: 13.1 },
};
const layoutLooic: LayoutSpec = {
  lefts: [550, 641, 732, 823], pw: 87,
  t0: 415, ph: 345, step: 345,
  stripTop: 403, rightStripW: 0,
  yAxisW: 24, xAxisH: 13,
  yTitle: "LOOIC", yTitleX: 524, xTitleY: 776,
  legend: { titleX: 923, titleY: 505, keyX: 924, keyW: 13, textX: 941, y0: 521, dy: 13.3 },
};

export default function App() {
  return (
    <div style={{ position: "absolute", left: 0, top: 0, width: 1009, height: 786, background: "#fff", fontFamily: FONT, overflow: "hidden" }}>
      <FacetGrid rows={parameterRows} values={lmseValues} ticks={lmseTicks} L={layoutLmse} />
      <FacetGrid rows={parameterRows} values={biasValues} ticks={biasTicks} L={layoutBias} reference={biasReference} />
      <FacetGrid rows={essRowNames} values={essValues} ticks={essTicks} L={layoutEss} />
      <FacetGrid rows={[""]} values={[looicAll]} ticks={looicTicks} L={layoutLooic} />
    </div>
  );
}
